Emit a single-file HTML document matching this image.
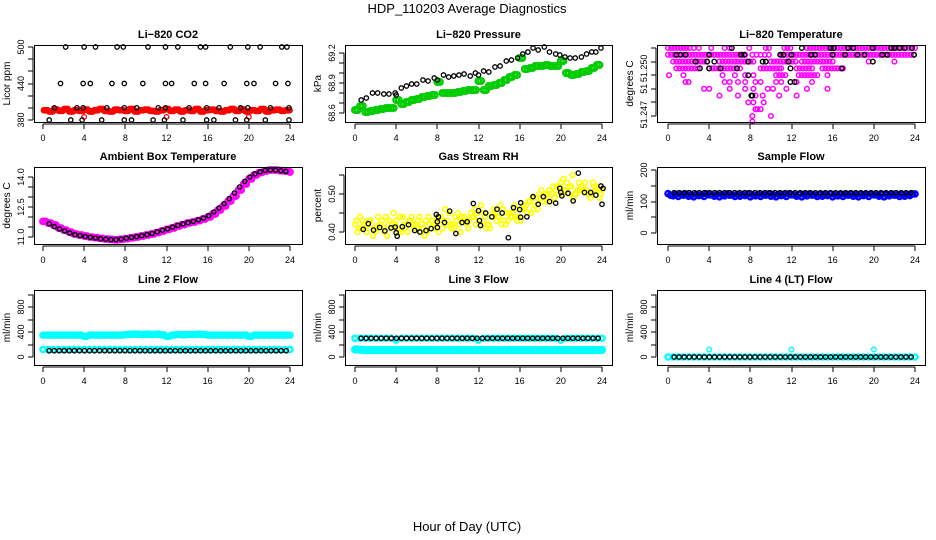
<!DOCTYPE html>
<html><head><meta charset="utf-8"><style>
html,body{margin:0;padding:0;background:#fff;}
svg{display:block;font-family:"Liberation Sans",Arial,sans-serif;}
</style></head><body>
<svg id="chart" width="936" height="540" viewBox="0 0 936 540">
<rect width="936" height="540" fill="#fff"/>
<text x="467" y="13" font-size="13" text-anchor="middle">HDP_110203  Average Diagnostics</text>
<text x="467" y="531" font-size="13" text-anchor="middle">Hour of Day (UTC)</text>
</svg>
<script>
// ---------- data ----------
const xTicks = [0,4,8,12,16,20,24];
// CO2
const co2RedVals = [396,394,397,395,398,394,396,395,397,394,396,398,395,394,397,396,395,398,394,396,397,395,394,396,398,395,397,394,396,395,398,394,396,397,395,394,396,398,395,397,394,396,395,398,394,396,397,395,396];
const co2RedOutT = [4.0,12.0,20.0];
const co2RedOutV = [385,385,385];
const co2BlkT = [2.2,4.0,5.1,7.2,7.8,10.2,11.9,13.1,15.3,15.8,18.2,19.9,21.1,23.2,23.7, 1.7,3.9,4.6,6.7,7.9,9.7,11.9,12.5,14.7,15.8,17.6,19.8,20.5,22.6,23.8, 1.1,3.3,3.9,6.2,7.9,9.1,11.2,11.9,14.2,15.9,17.1,19.2,19.9,22.1,23.9, 0.6,2.7,3.8,5.7,7.9,8.6,10.7,11.8,13.6,15.9,16.6,18.7,19.8,21.6,23.9];
const co2BlkV = [500,500,500,500,500,500,500,500,500,500,500,500,500,500,500, 440,440,440,440,440,440,440,440,440,440,440,440,440,440,440, 400,400,400,400,400,400,400,400,400,400,400,400,400,400,400, 380,380,380,380,380,380,380,380,380,380,380,380,380,380,380];
// Pressure
const presGreenVals = [68.63,68.67,68.61,68.62,68.63,68.64,68.65,68.65,68.73,68.69,68.71,68.73,68.74,68.76,68.77,68.78,68.91,68.80,68.80,68.80,68.81,68.82,68.83,68.83,68.92,68.83,68.87,68.88,68.90,68.93,68.96,68.98,69.15,69.04,69.05,69.07,69.07,69.08,69.07,69.07,69.12,69.00,68.98,68.99,69.01,69.02,69.05,69.08];
const presBlkT = [0.6,1.1,1.7,2.2,2.8,3.3,3.9,4.0,4.5,5.0,5.5,6.0,6.6,7.1,7.7,8.0,8.6,9.1,9.6,10.1,10.6,11.2,11.7,12.0,12.5,13.0,13.6,14.1,14.7,15.2,15.8,16.3,16.8,17.3,17.8,18.4,18.9,19.5,19.9,20.4,20.9,21.4,22.0,22.5,23.0,23.4,23.9];
const presBlkV = [68.73,68.75,68.80,68.80,68.79,68.79,68.80,68.78,68.85,68.87,68.89,68.89,68.93,68.92,68.95,68.93,68.98,68.96,68.97,68.98,68.99,68.97,69.00,68.98,69.02,69.01,69.06,69.07,69.12,69.13,69.15,69.19,69.21,69.25,69.23,69.26,69.21,69.19,69.18,69.16,69.15,69.15,69.16,69.19,69.21,69.21,69.25];
// Li-820 temperature (magenta by level; time ranges)
const tempLevels = [51.2520,51.2515,51.2510,51.2505,51.2500,51.2495,51.2490,51.2485,51.2480,51.2475,51.2470,51.2466];
const tempMagTimes = [
 [0,0.3,0.6,0.9,1.2,1.5,1.8,2.1,2.5,3.0,4.2,5.5,6.0,7.9,9.5,9.8,11.3,11.6,11.9,13.5,13.8,14.1,14.4,14.7,15,15.3,15.6,15.9,16.2,16.5,16.8,17.1,17.4,17.7,18,18.3,18.6,18.9,19.2,19.5,19.8,20.1,20.4,20.7,21,21.3,21.6,21.9,22.2,22.5,22.8,23.1,23.4,23.7,24],
 [0,0.3,0.6,0.9,1.2,1.5,1.8,2.1,2.4,2.7,3,3.3,3.6,3.9,4.2,4.5,4.8,5.1,5.4,5.7,6,6.3,6.6,6.9,7.2,7.5,8.2,8.6,9,9.4,9.8,11,11.3,11.6,11.9,12.2,12.5,12.8,13.1,13.4,13.7,14,14.3,14.6,14.9,15.2,15.5,15.8,16.1,16.4,16.7,17,17.3,17.6,17.9,18.2,18.5,18.8,19.1,19.4,19.7,20,20.3,20.6,20.9,21.2,21.5,21.8,22.1,22.4,22.7,23,23.3,23.6,23.9],
 [0.5,0.8,1.1,1.4,1.7,2,2.3,2.6,2.9,3.2,3.5,3.8,5,5.3,5.6,5.9,6.2,6.5,6.8,7.1,7.4,7.7,8,8.3,10,10.3,10.6,10.9,11.2,11.5,11.8,12.1,12.4,13,13.3,13.6,13.9,14.2,14.5,14.8,15.1,15.4,15.7,16,19.5,22],
 [0.8,1.1,1.4,1.7,2,2.3,2.6,2.9,4,4.3,4.6,4.9,5.2,5.5,5.8,6.1,6.4,7,9,9.3,9.6,9.9,10.2,10.5,10.8,11,12.5,12.8,13.1,13.4,13.7,14,15,15.3,15.6,15.9,16.2,16.5,16.8,17],
 [0.1,1.5,5.3,6.5,7.5,8.3,10.5,10.8,11.1,11.4,12.7,13,13.3,13.6,13.9,14.2,14.5,15.5],
 [1.7,2.0,5.5,6.0,6.8,7.5,8.5,9.0,10.5,11.0,12.5,14.0],
 [3.5,4.0,6.0,7.5,8.3,9.7,10.2,11.5,13.5,15.5],
 [5.0,6.8,8.5,9.2,10.8,12.5],
 [7.8,8.3,9.3],
 [8.5,8.7,9.0],
 [8.2,10.0],
 [8.2]
];
const tempBlkT = [6.2,13.0,15.8,16.1,17.5,18,19.9,21.7,22,22.5,23,23.7, 0.8,1.2,1.7,4.0,7.1,7.4,10.9,11.2,12,13.9,14.3,16,17.2,18.4,19.1,20.8,21.3,23.9, 2.7,3.8,4.5,7.8,9.2,9.5,11.7,19.9, 3.1,4.0,5.1,6.7,11.9,16.9, 7.8,11.9,12.3, 8.1,8.2];
const tempBlkV = [51.2520,51.2520,51.2520,51.2520,51.2520,51.2520,51.2520,51.2520,51.2520,51.2520,51.2520,51.2520, 51.2515,51.2515,51.2515,51.2515,51.2515,51.2515,51.2515,51.2515,51.2515,51.2515,51.2515,51.2515,51.2515,51.2515,51.2515,51.2515,51.2515,51.2515, 51.2510,51.2510,51.2510,51.2510,51.2510,51.2510,51.2510,51.2510, 51.2505,51.2505,51.2505,51.2505,51.2505,51.2505, 51.2500,51.2495,51.2495, 51.2485,51.2485];
// Ambient box temperature
const ambMagVals = [11.78,11.7,11.6,11.45,11.35,11.25,11.15,11.1,11.05,11.0,10.97,10.93,10.9,10.88,10.86,10.88,10.92,10.96,11.0,11.05,11.1,11.15,11.22,11.3,11.38,11.45,11.55,11.62,11.7,11.75,11.82,11.9,12.0,12.15,12.35,12.55,12.8,13.05,13.35,13.65,13.9,14.1,14.22,14.3,14.35,14.35,14.32,14.3,14.25];
const ambBlkVals = [11.66,11.52,11.4,11.3,11.2,11.12,11.07,11.02,10.98,10.95,10.91,10.89,10.87,10.87,10.9,10.94,10.98,11.02,11.07,11.12,11.18,11.26,11.34,11.41,11.5,11.58,11.66,11.72,11.78,11.86,11.95,12.07,12.25,12.45,12.67,12.92,13.2,13.5,13.78,14.0,14.16,14.26,14.33,14.35,14.34,14.31,14.28];
// Gas stream RH
const rhYelA = [0.42,0.44,0.41,0.43,0.40,0.42,0.44,0.41,0.43,0.40,0.42,0.44,0.41,0.42,0.40,0.43,0.44,0.41,0.43,0.42,0.45,0.43,0.41,0.44,0.43,0.45,0.42,0.46,0.44,0.43,0.45,0.47,0.44,0.46,0.48,0.47,0.49,0.50,0.48,0.51,0.53,0.51,0.52,0.50,0.52,0.51,0.50,0.52,0.51];
const rhYelB = [0.40,0.43,0.42,0.39,0.44,0.41,0.42,0.45,0.40,0.42,0.43,0.41,0.44,0.39,0.42,0.41,0.43,0.46,0.42,0.44,0.40,0.43,0.45,0.42,0.47,0.41,0.44,0.43,0.42,0.45,0.44,0.43,0.46,0.45,0.49,0.46,0.48,0.50,0.52,0.50,0.54,0.50,0.49,0.53,0.51,0.50,0.52,0.49];
const rhYelC = [0.43,0.41,0.40,0.42,0.41,0.43,0.39,0.42,0.41,0.44,0.40,0.42,0.43,0.41,0.44,0.42,0.40,0.43,0.45,0.41,0.42,0.44,0.43,0.46,0.42,0.44,0.41,0.45,0.47,0.42,0.44,0.46,0.43,0.47,0.45,0.49,0.51,0.48,0.50,0.52,0.50,0.53,0.55,0.51,0.52,0.50,0.53,0.51];
const rhYelD = [0.41,0.42,0.43,0.41,0.42,0.40,0.43,0.42,0.44,0.41,0.43,0.42,0.40,0.43,0.41,0.42,0.44,0.42,0.41,0.43,0.44,0.42,0.44,0.45,0.43,0.42,0.45,0.44,0.46,0.43,0.45,0.44,0.47,0.48,0.46,0.50,0.49,0.51,0.49,0.52,0.51,0.52,0.50,0.51,0.53,0.49,0.51,0.50];
const rhBlkT = [0.8,1.3,1.8,2.4,2.9,3.5,3.9,4.0,4.1,4.6,5.2,5.8,6.3,6.9,7.4,7.9,8.0,8.0,8.1,8.7,9.2,9.8,10.4,10.9,11.5,12.0,12.1,12.2,12.7,13.3,13.8,14.3,14.9,15.4,16.0,16.1,16.1,16.7,17.3,17.8,18.3,18.9,19.5,19.9,20.0,20.1,20.7,21.2,21.7,22.3,22.9,23.4,23.9,24.0,24.1];
const rhBlkV = [0.407,0.422,0.405,0.412,0.403,0.411,0.413,0.398,0.389,0.414,0.419,0.404,0.400,0.404,0.409,0.446,0.427,0.412,0.440,0.425,0.455,0.396,0.425,0.427,0.475,0.456,0.430,0.417,0.450,0.440,0.460,0.450,0.385,0.464,0.459,0.439,0.477,0.440,0.493,0.473,0.493,0.480,0.476,0.515,0.504,0.495,0.502,0.482,0.555,0.504,0.504,0.497,0.521,0.473,0.515];
// Sample flow
const sfBlueA = [125,118,116,120,117,115,119,116,121,117,115,118,120,116,117,119,115,118,116,120,117,115,119,116,121,117,115,118,120,116,117,119,115,118,116,120,117,115,119,116,121,117,115,118,120,116,117,119,124];
const sfBlueB = [120,123,122,124,121,123,122,124,121,123,122,124,121,123,122,124,121,123,122,124,121,123,122,124,121,123,122,124,121,123,122,124,121,123,122,124,121,123,122,124,121,123,122,124,121,123,122,124];
const sfBlk = [128,128,128,128,128,128,128,128,128,128,128,128,128,128,128,128,128,128,128,128,128,128,128,128,128,128,128,128,128,128,128,128,128,128,128,128,128,128,128,128,128,128,128,128,128,128,128,128];
// Line 2 flow
const l2CyanHi = [350,350,350,350,350,350,350,350,330,350,350,350,350,350,350,350,360,365,365,360,365,360,365,355,330,350,360,355,360,360,365,360,350,350,350,350,350,350,350,350,330,350,350,350,350,350,350,350,350];
const l2CyanLo = [120,120,120,120,120,120,120,120,120,120,120,120,120,120,120,120,120,120,120,120,120,120,120,120,120,120,120,120,120,120,120,120,120,120,120,120,120,120,120,120,120,120,120,120,120,120,120,120,120];
const l2Blk = [100,100,100,100,100,100,100,100,100,100,100,100,100,100,100,100,100,100,100,100,100,100,100,100,100,100,100,100,100,100,100,100,100,100,100,100,100,100,100,100,100,100,100,100,100,100,100,100];
// Line 3 flow
const l3CyanHi = [300,300,300,300,300,300,300,300,270,300,300,300,300,300,300,300,300,300,300,300,300,300,300,300,270,300,300,300,300,300,300,300,300,300,300,300,300,300,300,300,270,300,300,300,300,300,300,300,300];
const l3CyanLo = [120,115,110,110,110,110,110,110,110,110,110,110,110,110,110,110,110,110,110,110,110,110,110,110,110,110,110,110,110,110,110,110,110,110,110,110,110,110,110,110,110,110,110,110,110,110,110,110,115];
const l3Blk = [300,300,300,300,300,300,300,300,300,300,300,300,300,300,300,300,300,300,300,300,300,300,300,300,300,300,300,300,300,300,300,300,300,300,300,300,300,300,300,300,300,300,300,300,300,300,300,300];
// Line 4 flow
const l4Cyan = [0,0,0,0,0,0,0,0,0,0,0,0,0,0,0,0,0,0,0,0,0,0,0,0,0,0,0,0,0,0,0,0,0,0,0,0,0,0,0,0,0,0,0,0,0,0,0,0,0];
const l4CyanOutT = [4,12,20];
const l4CyanOutV = [120,120,120];
const l4Blk = [0,0,0,0,0,0,0,0,0,0,0,0,0,0,0,0,0,0,0,0,0,0,0,0,0,0,0,0,0,0,0,0,0,0,0,0,0,0,0,0,0,0,0,0,0,0,0,0];

// ---------- drawing ----------
const NS = 'http://www.w3.org/2000/svg';
const svg = document.getElementById('chart');
function mk(tag, attrs, parent){ const e=document.createElementNS(NS,tag); for(const k in attrs) e.setAttribute(k,attrs[k]); parent.appendChild(e); return e; }
const cols = [{x0:34,x1:302,t0:43,t24:290},{x0:345,x1:612,t0:355,t24:602},{x0:657,x1:925,t0:668,t24:915}];
const rows = [{y0:45,y1:122},{y0:167,y1:244},{y0:290,y1:365}];

function makePanel(name, title, ci, ri, yt, v1, p1, v2, p2, yTickVals, yLabelVals, yLabelText){
  const c=cols[ci], r=rows[ri];
  const g=mk('g',{},svg);
  
  
  const xs = t => c.t0 + (c.t24-c.t0)*t/24;
  const ys = v => p1 + (v - v1)*(p2-p1)/(v2-v1);
  const plot=mk('g',{},g);
  
  
  const t=mk('text',{x:(c.x0+c.x1)/2,y:r.y0-7,'font-size':11,'font-weight':'bold','text-anchor':'middle'},g);
  t.textContent=title;
  
  
  const yTitle=mk('text',{x:0,y:0,'font-size':10,'text-anchor':'middle',transform:`translate(${c.x0-24},${(r.y0+r.y1)/2}) rotate(-90)`},g);
  yTitle.textContent=yt;
  
  
  const ax=mk('g',{stroke:'#000','stroke-width':1,'shape-rendering':'crispEdges'},g);
  
  
  mk('line',{x1:xs(0),x2:xs(24),y1:r.y1+2,y2:r.y1+2},ax);
  xTicks.forEach(v=>{
    mk('line',{x1:Math.round(xs(v)),x2:Math.round(xs(v)),y1:r.y1+2,y2:r.y1+7},ax);
    const l=mk('text',{x:xs(v),y:r.y1+19,'font-size':9,'text-anchor':'middle',stroke:'none'},g);
    l.textContent=v;
    
    
  });
  const ty=yTickVals.map(ys);
  mk('line',{x1:c.x0-1,x2:c.x0-1,y1:Math.min(...ty),y2:Math.max(...ty)},ax);
  yTickVals.forEach(v=>{ mk('line',{x1:c.x0-6,x2:c.x0-1,y1:Math.round(ys(v)),y2:Math.round(ys(v))},ax); });
  yLabelVals.forEach((v,i)=>{
    const l=mk('text',{x:0,y:0,'font-size':9,'text-anchor':'middle',transform:`translate(${c.x0-10},${ys(v)}) rotate(-90)`},g);
    l.textContent=yLabelText[i];
    
    
  });
  const box=mk('rect',{x:c.x0+0.5,y:r.y0+0.5,width:c.x1-c.x0,height:r.y1-r.y0,fill:'none',stroke:'#000','stroke-width':1},g);
  
  
  function pts(ts, vs, color, rad, sw, label){
    ts.forEach((tt,i)=>{
      const cc=mk('circle',{cx:xs(tt),cy:ys(vs[i]),r:rad,fill:'none',stroke:color,'stroke-width':sw},plot);
      
      
    });
  }
  function series(vals, start, step, color, rad, sw, label){
    const ts = vals.map((_,i)=>start+i*step);
    pts(ts, vals, color, rad, sw, label);
  }
  return {pts, series};
}

// Row 1
let p = makePanel('co2','Li\u2212820 CO2',0,0,'Licor ppm',380,120,500,47,[380,400,420,440,460,480,500],[380,440,500],['380','440','500']);
p.series(co2RedVals,0.1,0.49,'#ff0000',2.3,2.2,'co2-red-point');
p.series(co2RedVals,0.27,0.49,'#ff0000',2.3,2.2,'co2-red-point');
p.series(co2RedVals,0.43,0.49,'#ff0000',2.3,2.2,'co2-red-point');
p.pts(co2RedOutT,co2RedOutV,'#ff0000',2.3,1.3,'co2-red-outlier');
p.pts(co2BlkT,co2BlkV,'#000',2.2,1.3,'co2-black-point');

p = makePanel('pressure','Li\u2212820 Pressure',1,0,'kPa',68.6,113,69.2,53,[68.6,68.7,68.8,68.9,69.0,69.1,69.2],[68.6,68.9,69.2],['68.6','68.9','69.2']);
p.series(presGreenVals,0,0.5,'#00cc00',2.8,2.4,'pressure-green-point');
p.series(presGreenVals,0.25,0.5,'#00cc00',2.8,2.4,'pressure-green-point');
p.pts(presBlkT,presBlkV,'#000',2.2,1.3,'pressure-black-point');

p = makePanel('li820-temp','Li\u2212820 Temperature',2,0,'degrees C',51.247,116,51.252,48,[51.247,51.248,51.249,51.250,51.251,51.252],[51.2471,51.249,51.2505],['51.247','51','51.250']);
tempLevels.forEach((lv,i)=>{ p.pts(tempMagTimes[i], tempMagTimes[i].map(()=>lv), '#ff00ff',2.3,1.5,'temp-magenta-point'); });
p.pts(tempBlkT,tempBlkV,'#000',2.3,1.4,'temp-black-point');

// Row 2
p = makePanel('ambient','Ambient Box Temperature',0,1,'degrees C',11,237,14,177,[11,11.5,12,12.5,13,13.5,14],[11,12.5,14],['11.0','12.5','14.0']);
p.series(ambMagVals,0,0.5,'#ff00ff',2.7,2.4,'ambient-magenta-point');
p.series(ambMagVals.slice(0,48),0.25,0.5,'#ff00ff',2.7,2.4,'ambient-magenta-point');
p.series(ambBlkVals,0.6,0.5,'#000',2.1,1.4,'ambient-black-point');

p = makePanel('rh','Gas Stream RH',1,1,'percent',0.40,232,0.50,194,[0.40,0.45,0.50,0.55],[0.40,0.50],['0.40','0.50']);
p.series(rhYelA,0,0.5,'#ffff00',2.4,1.6,'rh-yellow-point');
p.series(rhYelB,0.25,0.5,'#ffff00',2.4,1.6,'rh-yellow-point');
p.series(rhYelC,0.12,0.5,'#ffff00',2.4,1.6,'rh-yellow-point');
p.series(rhYelD,0.37,0.5,'#ffff00',2.4,1.6,'rh-yellow-point');
p.pts(rhBlkT,rhBlkV,'#000',2.2,1.3,'rh-black-point');

p = makePanel('sample-flow','Sample Flow',2,1,'ml/min',0,233,200,170,[0,50,100,150,200],[0,100,200],['0','100','200']);
p.series(sfBlueA,0,0.5,'#0000ff',2.6,2.4,'sample-blue-point');
p.series(sfBlueB,0.25,0.5,'#0000ff',2.6,2.4,'sample-blue-point');
p.series(sfBlk,0.6,0.49,'#000',2.2,1.3,'sample-black-point');

// Row 3
const flowTicks=[0,200,400,600,800,1000];
p = makePanel('line2-flow','Line 2 Flow',0,2,'ml/min',0,357,800,307,flowTicks,[0,400,800],['0','400','800']);
p.series(l2CyanHi,0,0.5,'#00ffff',2.6,2.4,'line2-cyan-point');
p.series(l2CyanHi.slice(0,48),0.25,0.5,'#00ffff',2.6,2.4,'line2-cyan-point');
p.series(l2CyanLo,0,0.5,'#00ffff',2.6,2.4,'line2-cyan-point');
p.series(l2Blk,0.6,0.49,'#000',2.2,1.3,'line2-black-point');

p = makePanel('line3-flow','Line 3 Flow',1,2,'ml/min',0,357,800,307,flowTicks,[0,400,800],['0','400','800']);
p.series(l3CyanLo,0,0.5,'#00ffff',2.8,2.6,'line3-cyan-point');
p.series(l3CyanLo.slice(0,48),0.25,0.5,'#00ffff',2.8,2.6,'line3-cyan-point');
p.series(l3CyanHi,0,0.5,'#00ffff',2.6,2.4,'line3-cyan-point');
p.series(l3Blk,0.6,0.49,'#000',2.2,1.3,'line3-black-point');

p = makePanel('line4-flow','Line 4 (LT) Flow',2,2,'ml/min',0,357,800,307,flowTicks,[0,400,800],['0','400','800']);
p.series(l4Cyan,0,0.5,'#00ffff',2.6,2.4,'line4-cyan-point');
p.pts(l4CyanOutT,l4CyanOutV,'#00ffff',2.3,1.4,'line4-cyan-outlier');
p.series(l4Blk,0.6,0.49,'#000',2.2,1.3,'line4-black-point');
</script>
</body></html>
